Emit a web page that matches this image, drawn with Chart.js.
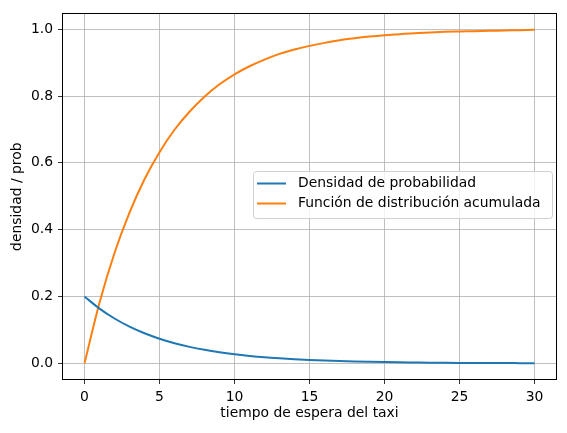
<!DOCTYPE html>
<html><head><meta charset="utf-8">
<script src="https://cdn.jsdelivr.net/npm/chart.js@4.4.0/dist/chart.umd.min.js"></script>
<style>html,body{margin:0;padding:0;background:#fff}#c{display:block}</style>
</head><body>
<canvas id="c" width="567" height="433"></canvas>
<script>
const xValues = [0,1,2,3,4,5,6,7,8,9,10,11,12,13,14,15,16,17,18,19,20,21,22,23,24,25,26,27,28,29,30];
const densidad = [0.200,0.1637,0.1341,0.1098,0.0899,0.0736,0.0602,0.0493,0.0404,0.0331,0.0271,0.0222,0.0181,0.0149,0.0122,0.0100,0.0082,0.0067,0.0055,0.0045,0.0037,0.0030,0.0025,0.0020,0.0016,0.0013,0.0011,0.0009,0.0007,0.0006,0.0005];
const acumulada = [0,0.181,0.330,0.451,0.551,0.632,0.699,0.753,0.798,0.835,0.865,0.889,0.909,0.926,0.939,0.950,0.959,0.967,0.973,0.978,0.982,0.985,0.988,0.990,0.992,0.993,0.994,0.995,0.996,0.997,0.998];
const xTicks = [0,5,10,15,20,25,30];
const yTicks = [0.0,0.2,0.4,0.6,0.8,1.0];
const seriesLabels = ['Densidad de probabilidad','Función de distribución acumulada'];

const FONT = "'DejaVu Sans', sans-serif";
const FS = 13.9;
const frame = {
  id:'frame',
  afterDraw(chart){
    const {ctx, chartArea:a} = chart;
    ctx.save();
    ctx.strokeStyle='#000'; ctx.lineWidth=1;
    ctx.strokeRect(Math.round(a.left)+0.5, Math.round(a.top)+0.5, Math.round(a.right-a.left)-1, Math.round(a.bottom-a.top)-1);
    // legend
    const lx=253.5, ly=171.5, lw=299, lh=47;
    ctx.fillStyle='rgba(255,255,255,0.8)';
    ctx.strokeStyle='#d0d0d0';
    ctx.beginPath();
    if (ctx.roundRect) ctx.roundRect(lx,ly,lw,lh,3); else ctx.rect(lx,ly,lw,lh);
    ctx.fill(); ctx.stroke();
    ctx.font = FS + "px " + FONT;
    ctx.textBaseline='middle';
    chart.data.datasets.forEach((ds,i)=>{
      const y = 183.5 + i*20;
      ctx.strokeStyle = ds.borderColor; ctx.lineWidth=2;
      ctx.beginPath(); ctx.moveTo(257,y); ctx.lineTo(286,y); ctx.stroke();
      ctx.fillStyle='#000';
      ctx.fillText(ds.label, 298, y);
    });
    ctx.restore();
  }
};

new Chart(document.getElementById('c'), {
  type:'line',
  data:{
    datasets:[
      {label:seriesLabels[0], data:xValues.map((x,i)=>({x, y:densidad[i]})), borderColor:'#1f77b4', borderWidth:2, pointRadius:0, cubicInterpolationMode:'monotone', fill:false},
      {label:seriesLabels[1], data:xValues.map((x,i)=>({x, y:acumulada[i]})), borderColor:'#ff7f0e', borderWidth:2, pointRadius:0, cubicInterpolationMode:'monotone', fill:false}
    ]
  },
  options:{
    responsive:false, animation:false,
    layout:{padding:{left:0, right:10, top:10, bottom:0}},
    plugins:{legend:{display:false}, tooltip:{enabled:false}},
    scales:{
      x:{type:'linear', min:-1.5, max:31.5,
        afterBuildTicks(s){ s.ticks = xTicks.map(v=>({value:v})); },
        afterFit(s){ s.height = 53; },
        grid:{color:'#b0b0b0', lineWidth:0.8, tickLength:4, tickColor:'#000', drawOnChartArea:true},
        border:{display:false},
        ticks:{color:'#000', font:{family:FONT, size:FS}, padding:5, maxRotation:0, callback:v=>String(v)},
        title:{display:true, text:'tiempo de espera del taxi', color:'#000', font:{family:FONT, size:FS}, padding:{top:0,bottom:11}}
      },
      y:{type:'linear', min:-0.0499, max:1.0474,
        afterBuildTicks(s){ s.ticks = yTicks.map(v=>({value:v})); },
        afterFit(s){ s.width = 62; },
        grid:{color:'#b0b0b0', lineWidth:0.8, tickLength:4, tickColor:'#000'},
        border:{display:false},
        ticks:{color:'#000', font:{family:FONT, size:FS}, padding:5, callback:v=>v.toFixed(1)},
        title:{display:true, text:'densidad / prob', color:'#000', font:{family:FONT, size:FS}, padding:{top:9,bottom:0}}
      }
    }
  },
  plugins:[frame]
});
</script>
</body></html>
